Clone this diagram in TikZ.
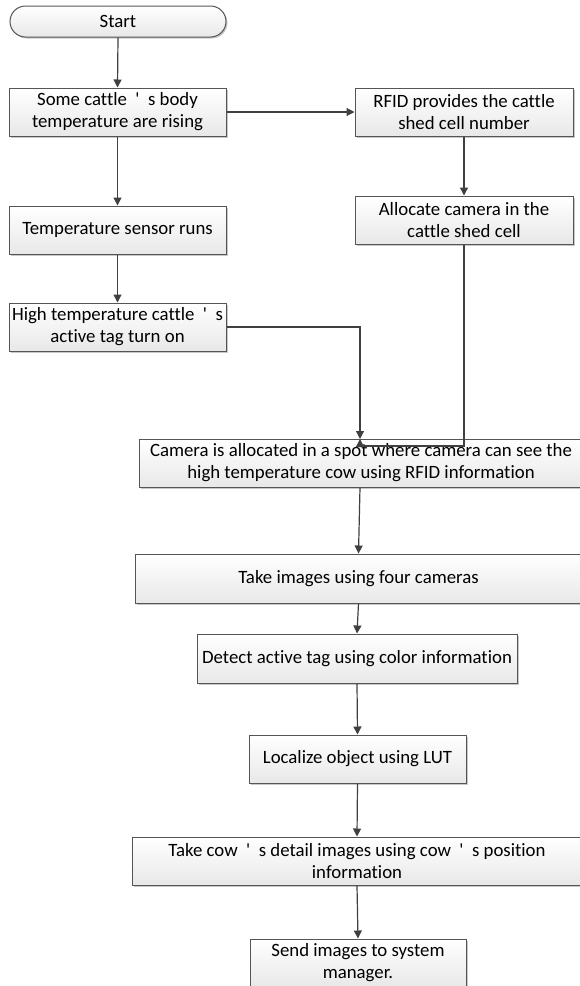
\documentclass[tikz,border=0pt]{standalone}
\usepackage{fontspec}
\setmainfont{Carlito}[Ligatures=NoCommon]
\usetikzlibrary{arrows.meta,shadows,shapes.misc}
\definecolor{linec}{HTML}{404040}
\definecolor{borderc}{HTML}{555555}
\tikzset{
  fbox/.style={rectangle, draw=borderc, line width=1pt, top color=white, bottom color=black!9,
    drop shadow={shadow xshift=1.5pt, shadow yshift=-1.5pt, fill=black, opacity=0.22},
    align=center, inner sep=0pt, font=\fontsize{18.8}{22}\selectfont, text=black},
  conn/.style={draw=linec, line width=1.2pt, -{Triangle[length=8pt,width=8pt]}},
}
\newcommand{\apos}{\hspace{0.45em}\textquotesingle\hspace{0.45em}}
\begin{document}
\begin{tikzpicture}[x=1pt,y=-1pt]
\useasboundingbox (0,0) rectangle (580,986);
\clip (0,0) rectangle (580,986);
\node[fbox, rounded corners=15.5pt, minimum width=216pt, minimum height=31pt] (start) at (118,21.5) {Start};
\node[fbox, minimum width=217pt, minimum height=48pt] (b1) at (117.5,112) {Some cattle\apos s body\\temperature are rising};
\node[fbox, minimum width=218pt, minimum height=48pt] (rfid) at (464,112) {RFID provides the cattle\\shed cell number};
\node[fbox, minimum width=218pt, minimum height=48pt] (alloc) at (464,220) {Allocate camera in the\\cattle shed cell};
\node[fbox, minimum width=217pt, minimum height=48pt] (temp) at (117.5,230) {Temperature sensor runs};
\node[fbox, minimum width=217pt, minimum height=48pt] (high) at (117.5,327) {High temperature cattle\apos s\\active tag turn on};
\node[fbox, minimum width=444pt, minimum height=48pt] (cam) at (361,463) {Camera is allocated in a spot where camera can see the\\high temperature cow using RFID information};
\node[fbox, minimum width=447pt, minimum height=49pt] (take) at (358.5,578.5) {Take images using four cameras};
\node[fbox, minimum width=320pt, minimum height=49pt] (detect) at (357,658.5) {Detect active tag using color information};
\node[fbox, minimum width=217pt, minimum height=48pt] (loc) at (357.5,759) {Localize object using LUT};
\node[fbox, minimum width=450pt, minimum height=48pt] (cow) at (357,861) {Take cow\apos s detail images using cow\apos s position\\information};
\node[fbox, minimum width=216pt, minimum height=48pt] (send) at (358,963) {Send images to system\\manager.};
\coordinate (camin) at (360,439);
\coordinate (j1) at (360,446);
\draw[conn] (start.south) -- (b1.north);
\draw[conn] (b1.east) -- (rfid.west);
\draw[conn] (b1.south) -- (temp.north);
\draw[conn] (temp.south) -- (high.north);
\draw[conn] (rfid.south) -- (alloc.north);
\draw[conn] (high.east) -| (camin);
\draw[conn] (alloc.south) |- (j1) -- (camin);
\draw[conn] (cam.south -| 360,0) -- (take.north);
\draw[conn] (take.south) -- (detect.north);
\draw[conn] (detect.south) -- (loc.north);
\draw[conn] (loc.south) -- (cow.north);
\draw[conn] (cow.south) -- (send.north);
\end{tikzpicture}
\end{document}
